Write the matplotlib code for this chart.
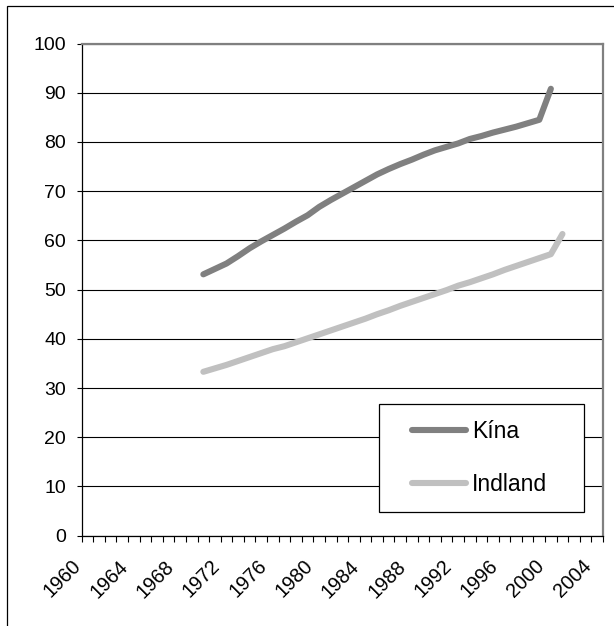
import matplotlib
matplotlib.use("Agg")
import matplotlib.pyplot as plt
from matplotlib.patches import Rectangle
from matplotlib.transforms import ScaledTranslation
from matplotlib.legend_handler import HandlerLine2D
import numpy as np

plt.rcParams['font.family'] = ['Liberation Sans', 'DejaVu Sans']

years_china = list(range(1970, 2001))
china = [53.1, 54.2, 55.3, 56.8, 58.4, 59.8, 61.1, 62.4, 63.8, 65.1,
         66.8, 68.2, 69.5, 70.8, 72.1, 73.4, 74.5, 75.5, 76.4, 77.4,
         78.3, 79.0, 79.7, 80.6, 81.2, 81.9, 82.5, 83.1, 83.8, 84.5,
         90.8]

years_india = list(range(1970, 2002))
india = [33.3, 34.0, 34.7, 35.5, 36.3, 37.1, 37.9, 38.5, 39.3, 40.1,
         40.9, 41.7, 42.5, 43.3, 44.1, 45.0, 45.8, 46.7, 47.5, 48.3,
         49.1, 49.9, 50.8, 51.5, 52.3, 53.1, 54.0, 54.8, 55.6, 56.4,
         57.2, 61.3]

series_names = ["Kína", "Indland"]
first_year, last_year = 1960, 2004
label_years = list(range(1960, 2005, 4))
y_ticks = list(range(0, 101, 10))


class GapLineHandler(HandlerLine2D):
    """Legend line drawn only in the right part of the handle box."""
    def __init__(self, gap=0.24, **kw):
        super().__init__(**kw)
        self.gap = gap

    def create_artists(self, legend, orig_handle, xdescent, ydescent,
                       width, height, fontsize, trans):
        arts = super().create_artists(legend, orig_handle, xdescent, ydescent,
                                      width, height, fontsize, trans)
        for a in arts:
            xd = np.asarray(a.get_xdata(), dtype=float)
            if xd.size > 1:
                xd = xd.copy()
                xd[0] = xd[0] + self.gap * (xd[-1] - xd[0])
                a.set_xdata(xd)
        return arts


W, H = 614, 626
fig = plt.figure(figsize=(W / 100, H / 100), dpi=100)
ax = fig.add_axes([81.7 / W, 1 - 535.7 / H, (603 - 81.7) / W, (535.7 - 43.5) / H])

l1, = ax.plot(years_china, china, color="#808080", lw=4.4, solid_capstyle="round",
              solid_joinstyle="round", label=series_names[0], zorder=3)
l2, = ax.plot(years_india, india, color="#c0c0c0", lw=4.4, solid_capstyle="round",
              solid_joinstyle="round", label=series_names[1], zorder=3)

ax.set_xlim(first_year - 0.5, last_year + 0.5)
ax.set_ylim(0, 100)

ax.set_yticks(y_ticks)
ax.set_yticklabels([str(v) for v in y_ticks])
ax.yaxis.grid(True, color="black", lw=0.8)
ax.set_axisbelow(True)
ax.tick_params(axis="y", direction="out", length=3.8, width=0.8, pad=7.5,
               labelsize=14, colors="black")

ax.set_xticks(label_years)
ax.set_xticklabels([str(y) for y in label_years], rotation=45,
                   ha="right", va="top", rotation_mode="anchor")
ax.set_xticks(np.arange(first_year - 0.5, last_year + 1.0, 1.0), minor=True)
ax.tick_params(axis="x", which="major", length=0, pad=15, labelsize=14.3)
ax.tick_params(axis="x", which="minor", direction="out", length=4.5, width=0.8)
for lab in ax.get_xticklabels():
    lab.set_transform(lab.get_transform() + ScaledTranslation(-16 / 100, 0, fig.dpi_scale_trans))

for side in ("top", "right"):
    ax.spines[side].set_color("#808080")
    ax.spines[side].set_linewidth(1.6)
for side in ("left", "bottom"):
    ax.spines[side].set_color("black")
    ax.spines[side].set_linewidth(0.9)

ax_w = 603 - 81.7
leg = ax.legend(handles=[l1, l2], loc="upper left",
                bbox_to_anchor=((379.3 - 81.7) / ax_w, 0.267, (584.3 - 379.3) / ax_w, 0.0),
                mode="expand", fontsize=16.5,
                frameon=True, fancybox=False, framealpha=1, edgecolor="black",
                handlelength=3.1, handletextpad=0.25, labelspacing=1.3,
                borderpad=0.7, borderaxespad=0,
                handler_map={l1: GapLineHandler(), l2: GapLineHandler()})
leg.get_frame().set_linewidth(0.9)
for h in leg.get_lines():
    h.set_linewidth(4.4)
    h.set_solid_capstyle("round")

fig.patches.append(Rectangle((7 / W, -0.1), 1.2, 1.1 - 6 / H,
                             transform=fig.transFigure, fill=False,
                             edgecolor="black", lw=0.9))

fig.savefig("out.png", dpi=100)
